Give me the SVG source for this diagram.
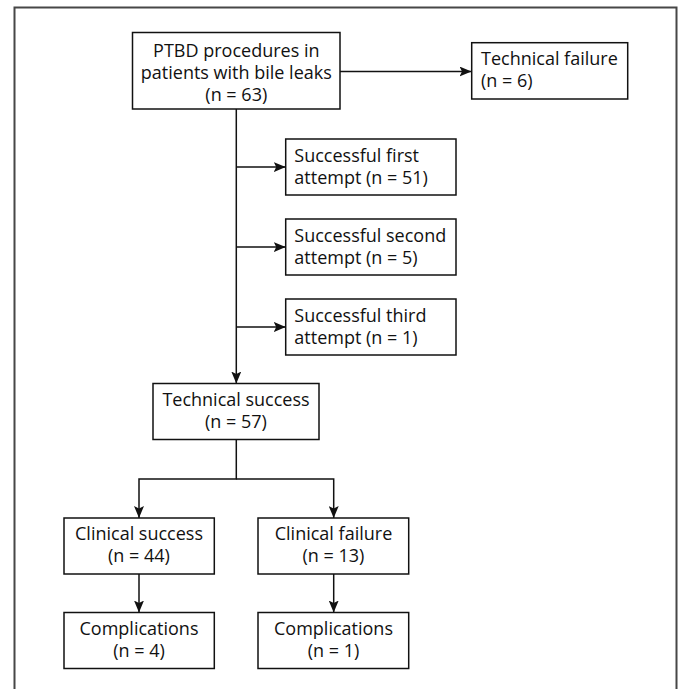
<svg xmlns="http://www.w3.org/2000/svg" width="678" height="689" viewBox="0 0 678 689">
<style>
.box{fill:#fff;stroke:#111;stroke-width:1.5}
.t{font-family:"Open Sans","Noto Sans","DejaVu Sans",sans-serif;font-size:18px;fill:#111}
.c{text-anchor:middle}
.ln{fill:none;stroke:#111;stroke-width:1.5}
</style>
<defs>
<marker id="ah" markerWidth="12" markerHeight="10" refX="12" refY="5" orient="auto" markerUnits="userSpaceOnUse">
<path d="M0,0 L12,5 L0,10 L2.5,5 Z" fill="#111"/>
</marker>
</defs>
<rect width="678" height="689" fill="#fff"/>
<path d="M14.5,689 V7.5 H676.5 V689" fill="none" stroke="#474747" stroke-width="2"/>
<g id="connectors">
<line class="ln" x1="340" y1="71.5" x2="471.5" y2="71.5" marker-end="url(#ah)"/>
<line class="ln" x1="236.3" y1="109" x2="236.3" y2="383.5" marker-end="url(#ah)"/>
<line class="ln" x1="236.3" y1="167" x2="285.7" y2="167" marker-end="url(#ah)"/>
<line class="ln" x1="236.3" y1="247" x2="285.7" y2="247" marker-end="url(#ah)"/>
<line class="ln" x1="236.3" y1="327" x2="285.7" y2="327" marker-end="url(#ah)"/>
<path class="ln" d="M236.3,439.5 V479 H139 V518" marker-end="url(#ah)"/>
<path class="ln" d="M236.3,479 H333.7 V518" marker-end="url(#ah)"/>
<line class="ln" x1="139" y1="574" x2="139" y2="612.5" marker-end="url(#ah)"/>
<line class="ln" x1="333.7" y1="574" x2="333.7" y2="612.5" marker-end="url(#ah)"/>
</g>
<g id="n-main">
<rect class="box" x="132.5" y="32.5" width="207.5" height="76.5"/>
<text class="t c" x="236.3" y="57">PTBD procedures in</text>
<text class="t c" x="236.3" y="79">patients with bile leaks</text>
<text class="t c" x="236.3" y="101">(n = 63)</text>
</g>
<g id="n-techfail">
<rect class="box" x="471.7" y="42.7" width="156" height="56.3"/>
<text class="t" x="481" y="65.3">Technical failure</text>
<text class="t" x="481" y="87.3">(n = 6)</text>
</g>
<g id="n-first">
<rect class="box" x="285.7" y="139" width="170.3" height="56"/>
<text class="t" x="294.3" y="162">Successful first</text>
<text class="t" x="294.3" y="184">attempt (n = 51)</text>
</g>
<g id="n-second">
<rect class="box" x="285.7" y="219" width="170.3" height="56"/>
<text class="t" x="294.3" y="242">Successful second</text>
<text class="t" x="294.3" y="264">attempt (n = 5)</text>
</g>
<g id="n-third">
<rect class="box" x="285.7" y="299" width="170.3" height="56"/>
<text class="t" x="294.3" y="322">Successful third</text>
<text class="t" x="294.3" y="344">attempt (n = 1)</text>
</g>
<g id="n-techsuccess">
<rect class="box" x="153" y="383.5" width="166" height="56"/>
<text class="t c" x="236" y="405.8">Technical success</text>
<text class="t c" x="236" y="427.8">(n = 57)</text>
</g>
<g id="n-clinsuccess">
<rect class="box" x="64" y="518" width="150.3" height="56"/>
<text class="t c" x="139" y="540.3">Clinical success</text>
<text class="t c" x="139" y="562.3">(n = 44)</text>
</g>
<g id="n-clinfail">
<rect class="box" x="258" y="518" width="150.7" height="56"/>
<text class="t c" x="333.5" y="540.3">Clinical failure</text>
<text class="t c" x="333.5" y="562.3">(n = 13)</text>
</g>
<g id="n-comp1">
<rect class="box" x="64" y="612.5" width="150.3" height="56"/>
<text class="t c" x="139" y="634.8">Complications</text>
<text class="t c" x="139" y="656.8">(n = 4)</text>
</g>
<g id="n-comp2">
<rect class="box" x="258" y="612.5" width="150.7" height="56"/>
<text class="t c" x="333.5" y="634.8">Complications</text>
<text class="t c" x="333.5" y="656.8">(n = 1)</text>
</g>
</svg>
